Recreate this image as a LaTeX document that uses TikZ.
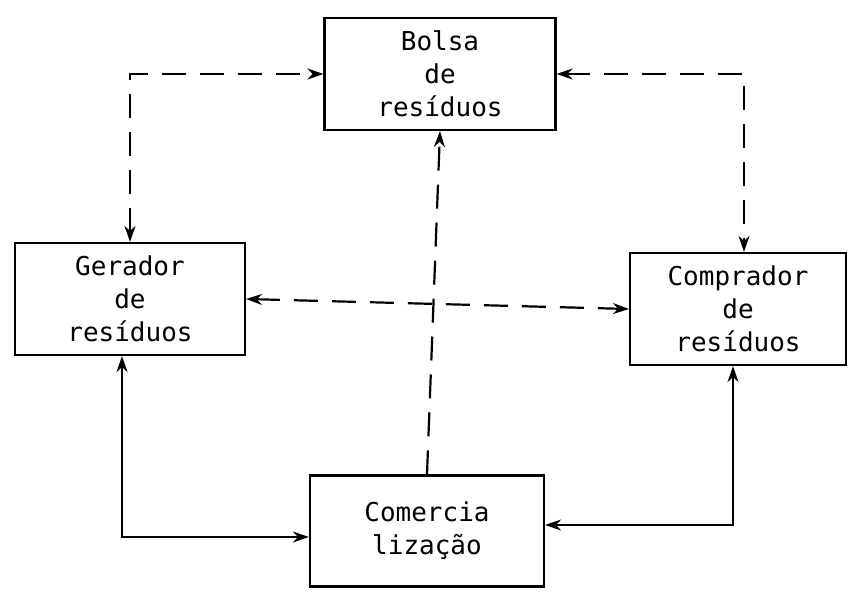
\documentclass[tikz,border=0pt]{standalone}
\usepackage{fontspec}
\setmonofont{DejaVu Sans Mono}
\usetikzlibrary{arrows.meta}

\begin{document}
\begin{tikzpicture}[x=1pt, y=-1pt,
  caixa/.style={draw, line width=2.2pt, minimum height=112pt, inner sep=0pt,
    align=center, font=\ttfamily\fontsize{26}{33}\selectfont},
  fluxo/.style={line width=2.2pt, {Stealth[length=16pt,width=11pt]}-{Stealth[length=16pt,width=11pt]}},
  tracejado/.style={fluxo, dash pattern=on 24pt off 14pt}]
  \useasboundingbox (0,0) rectangle (849,592);

  % Nodos
  \node[caixa, minimum width=231pt] (bolsa) at (440,74) {Bolsa\\de\\resíduos};
  \node[caixa, minimum width=230pt] (gerador) at (130,299) {Gerador\\de\\resíduos};
  \node[caixa, minimum width=216pt] (comprador) at (738,309) {Comprador\\de\\resíduos};
  \node[caixa, minimum width=234pt, minimum height=111pt] (comercio) at (427,531) {Comercia\\lização};

  \draw[tracejado] (gerador.north) |- (bolsa.west);
  \draw[tracejado] (bolsa.east) -| ([xshift=6pt]comprador.north);
  \draw[tracejado] (gerador.east) -- (comprador.west);
  \draw[tracejado, -{Stealth[length=16pt,width=11pt]}] (comercio.north) -- (bolsa.south);
  \draw[fluxo] ([xshift=-8pt]gerador.south) |- ([yshift=-6pt]comercio.west);
  \draw[fluxo] ([xshift=-5pt]comprador.south) |- ([yshift=6pt]comercio.east);
\end{tikzpicture}
\end{document}
